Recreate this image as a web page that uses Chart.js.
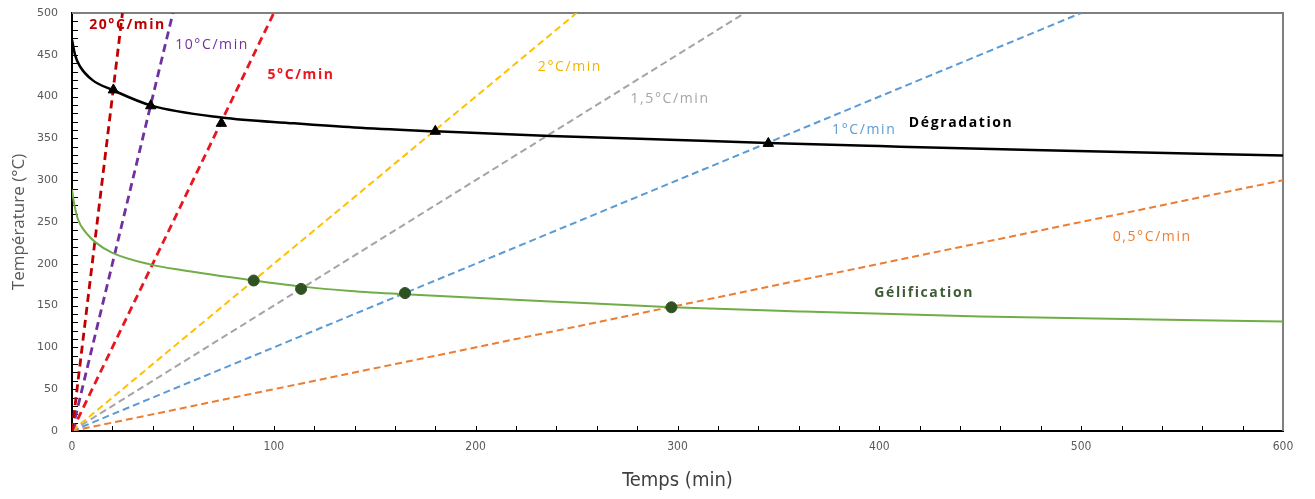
<!DOCTYPE html>
<html>
<head>
<meta charset="utf-8">
<script src="https://cdn.jsdelivr.net/npm/chart.js@4.4.1/dist/chart.umd.min.js"></script>
<style>
  html, body { margin: 0; padding: 0; background: #fff; }
  #wrap { width: 1315px; height: 499px; }
</style>
</head>
<body>
<div id="wrap"><canvas id="graficaRampes"></canvas></div>
<script>
// Rampes de chauffe (droites depuis l'origine)
const rampLabels = ['20°C/min', '10°C/min', '5°C/min', '2°C/min', '1,5°C/min', '1°C/min', '0,5°C/min'];
const rampEndX = [25, 50, 100, 250, 333.3, 500, 600];
const rampEndY = [500, 500, 500, 500, 500, 500, 300];
const rampColors = ['#c00000', '#7030a0', '#e8161e', '#ffc000', '#a5a5a5', '#5b9bd5', '#ed7d31'];

// Courbe de dégradation
const degTime = [0, 1.5, 4, 10, 20, 39, 74, 110, 140, 180, 237, 300, 345, 400, 476, 600];
const degTemp = [468, 450, 436, 420, 408, 389.5, 375, 368, 363, 358.5, 353, 348, 344.5, 340.8, 336, 329.5];

// Courbe de gélification
const gelTime = [0, 1, 3, 7, 12, 20, 39, 54, 90, 113, 138, 165, 237, 297, 360, 450, 600];
const gelTemp = [289, 273, 253, 237, 225, 213, 199, 192.5, 180, 173, 167.5, 163.5, 155, 148, 143, 137, 131];

// Points d'intersection
const triTime = [20.5, 39, 74, 180, 345];
const triTemp = [408, 389, 368, 358.5, 344];
const dotTime = [90, 113.5, 165, 297];
const dotTemp = [180, 170, 165, 148];

// Étiquettes dans le graphique
const annotTexts = ['20°C/min', '10°C/min', '5°C/min', '2°C/min', '1,5°C/min', '1°C/min', 'Dégradation', '0,5°C/min', 'Gélification'];
const annotX = [27.5, 69.4, 113.5, 246.7, 296.3, 392.5, 440.5, 535.2, 422.2];
const annotY = [485.6, 461.7, 425.8, 435.4, 397.1, 360, 368.4, 232.1, 165.1];
const annotColors = ['#c00000', '#7030a0', '#e8161e', '#f0b400', '#a5a5a5', '#5b9bd5', '#000000', '#ed7d31', '#3d5c34'];
const annotBold = [true, false, true, false, false, false, true, false, true];

function toPoints(xs, ys) {
    return xs.map(function(x, i) { return {x: x, y: ys[i]}; });
}

var datasets = [];

datasets.push({
    label: 'Intersections dégradation',
    data: toPoints(triTime, triTemp),
    pointStyle: 'triangle',
    pointRadius: 6,
    backgroundColor: '#000',
    borderColor: '#000',
    showLine: false
});
datasets.push({
    label: 'Intersections gélification',
    data: toPoints(dotTime, dotTemp),
    pointStyle: 'circle',
    pointRadius: 5.5,
    backgroundColor: '#2f5222',
    borderColor: '#2f5222',
    showLine: false
});
datasets.push({
    label: 'Dégradation',
    data: toPoints(degTime, degTemp),
    showLine: true,
    borderColor: '#000',
    borderWidth: 2.5,
    pointRadius: 0,
    cubicInterpolationMode: 'monotone'
});
datasets.push({
    label: 'Gélification',
    data: toPoints(gelTime, gelTemp),
    showLine: true,
    borderColor: '#70ad47',
    borderWidth: 2,
    pointRadius: 0,
    cubicInterpolationMode: 'monotone'
});
rampLabels.forEach(function(name, i) {
    var fast = i < 3;
    datasets.push({
        label: name,
        data: [{x: 0, y: 0}, {x: rampEndX[i], y: rampEndY[i]}],
        showLine: true,
        borderColor: rampColors[i],
        borderWidth: fast ? 2.8 : 2,
        borderDash: fast ? [8, 5] : [7, 4],
        pointRadius: 0
    });
});

// Cadre gris, graduations intérieures et étiquettes
const decorPlugin = {
    id: 'decor',
    beforeDatasetsDraw: function(chart) {
        var ctx = chart.ctx, a = chart.chartArea;
        var xs = chart.scales.x, ys = chart.scales.y;
        ctx.save();
        ctx.strokeStyle = '#7f7f7f';
        ctx.lineWidth = 2;
        ctx.beginPath();
        ctx.moveTo(a.left, a.top);
        ctx.lineTo(a.right, a.top);
        ctx.lineTo(a.right, a.bottom);
        ctx.stroke();

        ctx.strokeStyle = '#000';
        ctx.lineWidth = 1;
        ctx.beginPath();
        for (var v = 10; v <= 490; v += 10) {
            var py = Math.round(ys.getPixelForValue(v)) + 0.5;
            ctx.moveTo(a.left, py);
            ctx.lineTo(a.left + 6, py);
        }
        for (var t = 20; t < 600; t += 20) {
            var px = Math.round(xs.getPixelForValue(t)) + 0.5;
            ctx.moveTo(px, a.bottom);
            ctx.lineTo(px, a.bottom - 5);
        }
        ctx.stroke();
        ctx.restore();
    },
    afterDatasetsDraw: function(chart) {
        var ctx = chart.ctx;
        var xs = chart.scales.x, ys = chart.scales.y;
        ctx.save();
        ctx.textAlign = 'center';
        ctx.textBaseline = 'middle';
        ctx.letterSpacing = '1.6px';
        annotTexts.forEach(function(txt, i) {
            ctx.font = (annotBold[i] ? 'bold ' : '') + '14px "Open Sans", sans-serif';
            ctx.fillStyle = annotColors[i];
            ctx.fillText(txt, xs.getPixelForValue(annotX[i]), ys.getPixelForValue(annotY[i]));
        });
        ctx.restore();
    }
};

var ctx = document.getElementById('graficaRampes').getContext('2d');
window.rampChart = new Chart(ctx, {
    type: 'scatter',
    data: { datasets: datasets },
    options: {
        responsive: true,
        maintainAspectRatio: false,
        animation: false,
        layout: { padding: { left: 0, right: 32, top: 13, bottom: 0 } },
        plugins: {
            legend: { display: false },
            tooltip: { enabled: false }
        },
        scales: {
            x: {
                type: 'linear',
                min: 0,
                max: 600,
                afterFit: function(scale) { scale.height = 68; },
                grid: { drawOnChartArea: false, drawTicks: false },
                border: { color: '#000', width: 2 },
                ticks: {
                    stepSize: 100,
                    padding: 9,
                    color: '#595959',
                    font: { family: '"Liberation Sans Narrow", "DejaVu Sans Condensed", sans-serif', size: 12 }
                },
                title: {
                    display: true,
                    text: 'Temps (min)',
                    color: '#404040',
                    padding: { top: 0, bottom: 6 },
                    font: { family: '"Liberation Sans Narrow", "DejaVu Sans Condensed", sans-serif', size: 20 }
                }
            },
            y: {
                min: 0,
                max: 500,
                afterFit: function(scale) {
                    scale.width = 72;
                    scale.paddingTop = 0;
                    scale.paddingBottom = 0;
                },
                grid: { drawOnChartArea: false, drawTicks: false },
                border: { color: '#000', width: 2 },
                ticks: {
                    stepSize: 50,
                    padding: 14,
                    color: '#595959',
                    font: { family: '"DejaVu Sans", sans-serif', size: 11 }
                },
                title: {
                    display: true,
                    text: 'Température (°C)',
                    color: '#595959',
                    padding: { top: 9, bottom: 0 },
                    font: { family: '"Open Sans", sans-serif', size: 17 }
                }
            }
        }
    },
    plugins: [decorPlugin]
});
</script>
</body>
</html>
